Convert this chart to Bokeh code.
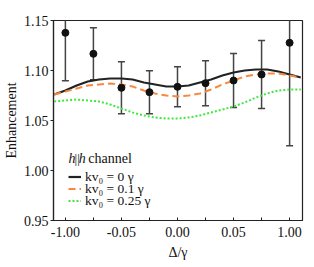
from bokeh.plotting import figure
from bokeh.models import (Range1d, FixedTicker, Whisker, ColumnDataSource, Legend, LegendItem, Label,
                          NumeralTickFormatter)
from bokeh.embed import file_html
from bokeh.resources import INLINE

# data points with error bars
pt_x = [-0.1, -0.075, -0.05, -0.025, 0.0, 0.025, 0.05, 0.075, 0.1]
pt_y = [1.1377, 1.1167, 1.0827, 1.0783, 1.0837, 1.0873, 1.090, 1.096, 1.1277]
pt_err = [0.048, 0.026, 0.026, 0.0215, 0.020, 0.0225, 0.027, 0.034, 0.103]

# theory curves
cx = [-0.11, -0.10, -0.09, -0.08, -0.07, -0.06, -0.05, -0.04, -0.03, -0.02, -0.01, 0.00,
      0.01, 0.02, 0.03, 0.04, 0.05, 0.06, 0.07, 0.08, 0.09, 0.10, 0.11]
y_k0 = [1.076, 1.080, 1.085, 1.089, 1.091, 1.092, 1.092, 1.091, 1.088, 1.086, 1.084, 1.084,
        1.085, 1.088, 1.091, 1.095, 1.098, 1.100, 1.101, 1.101, 1.099, 1.096, 1.093]
y_k01 = [1.076, 1.079, 1.082, 1.085, 1.086, 1.087, 1.086, 1.084, 1.080, 1.077, 1.075, 1.074,
         1.075, 1.077, 1.081, 1.086, 1.090, 1.094, 1.096, 1.097, 1.097, 1.095, 1.093]
y_k025 = [1.069, 1.070, 1.071, 1.070, 1.069, 1.066, 1.062, 1.058, 1.055, 1.053, 1.052, 1.052,
          1.053, 1.055, 1.058, 1.061, 1.064, 1.068, 1.073, 1.077, 1.080, 1.081, 1.081]

x_ticks = [-0.1, -0.05, 0.0, 0.05, 0.1]
x_tick_labels = ["-1.00", "-0.05", "0.00", "0.05", "1.00"]
x_minor = [-0.075, -0.025, 0.025, 0.075]
y_ticks = [0.95, 1.00, 1.05, 1.10, 1.15]

legend_labels = ["kv\u2080 = 0 \u03b3", "kv\u2080 = 0.1 \u03b3", "kv\u2080 = 0.25 \u03b3"]

FONT = "Liberation Serif"

p = figure(width=306, height=267, output_backend="svg", toolbar_location=None,
           x_range=Range1d(-0.1106, 0.1115), y_range=Range1d(0.95, 1.15),
           min_border_left=51, min_border_right=4, min_border_top=20, min_border_bottom=47)
p.xgrid.visible = False
p.ygrid.visible = False
p.outline_line_color = "#222222"
p.outline_line_width = 1.2
p.background_fill_color = "white"
p.border_fill_color = "white"

# axes
p.xaxis.ticker = FixedTicker(ticks=x_ticks, minor_ticks=x_minor)
p.xaxis.major_label_overrides = {t: l for t, l in zip(x_ticks, x_tick_labels)}
p.yaxis.ticker = FixedTicker(ticks=y_ticks, minor_ticks=[])
p.yaxis.formatter = NumeralTickFormatter(format="0.00")
for ax in (p.xaxis, p.yaxis):
    ax.axis_line_color = "#222222"
    ax.axis_line_width = 1.2
    ax.major_tick_line_color = "#222222"
    ax.minor_tick_line_color = "#222222"
    ax.major_label_text_font = FONT
    ax.major_label_text_font_size = "14px"
    ax.major_label_text_color = "#111111"
    ax.axis_label_text_font = FONT
    ax.axis_label_text_font_style = "normal"
    ax.axis_label_text_color = "#111111"
    ax.axis_label_text_font_size = "14px"
p.xaxis.major_tick_in = 3
p.xaxis.major_tick_out = 0
p.xaxis.minor_tick_in = 3
p.xaxis.minor_tick_out = 0
p.yaxis.major_tick_in = 0
p.yaxis.major_tick_out = 3
p.yaxis.minor_tick_in = 0
p.yaxis.minor_tick_out = 0
p.xaxis.axis_label = "\u0394/\u03b3"
p.xaxis.axis_label_standoff = 5
p.xaxis.major_label_standoff = 6
p.yaxis.axis_label = "Enhancement"
p.yaxis.axis_label_standoff = 2
p.yaxis.major_label_standoff = 2

# curves
r0 = p.line(cx, y_k0, line_color="#222222", line_width=2.2)
r1 = p.line(cx, y_k01, line_color="#f7883f", line_width=2.0, line_dash="7 4")
r2 = p.line(cx, y_k025, line_color="#3ee83e", line_width=2.0, line_dash="2 2")

# error bars
src = ColumnDataSource(dict(x=pt_x, y=pt_y,
                            lo=[y - e for y, e in zip(pt_y, pt_err)],
                            hi=[y + e for y, e in zip(pt_y, pt_err)]))
w = Whisker(source=src, base="x", lower="lo", upper="hi", dimension="height",
            line_color="#444444", line_width=1.5)
for h in (w.upper_head, w.lower_head):
    h.size = 7
    h.line_color = "#444444"
    h.line_width = 1.5
p.add_layout(w)
p.scatter("x", "y", source=src, size=7, fill_color="#111111", line_color="#111111")

# legend: one Legend per entry for tight row spacing
renderers = [r0, r1, r2]
leg_y = [35.5, 23.5, 11.5]
for lab, r, ly in zip(legend_labels, renderers, leg_y):
    lg = Legend(items=[LegendItem(label=lab, renderers=[r])],
                location=(15, ly), orientation="vertical",
                background_fill_alpha=0, border_line_alpha=0,
                padding=0, margin=0, spacing=0,
                glyph_width=13, glyph_height=11, label_height=11,
                label_standoff=4,
                label_text_font=FONT, label_text_font_size="13.5px",
                label_text_color="#111111")
    p.add_layout(lg, "center")

title_y = 1.0125
p.add_layout(Label(x=-0.0973, y=title_y, text="h", text_font=FONT, text_font_size="14px",
                   text_font_style="italic", text_baseline="middle", text_color="#111111"))
p.add_layout(Label(x=-0.0918, y=title_y, text="||", text_font=FONT, text_font_size="13px",
                   text_baseline="middle", text_color="#111111"))
p.add_layout(Label(x=-0.0881, y=title_y, text="h", text_font=FONT, text_font_size="14px",
                   text_font_style="italic", text_baseline="middle", text_color="#111111"))
p.add_layout(Label(x=-0.0796, y=title_y, text="channel", text_font=FONT, text_font_size="14px",
                   text_baseline="middle", text_color="#111111"))

open("out.html", "w").write(file_html(p, INLINE))
